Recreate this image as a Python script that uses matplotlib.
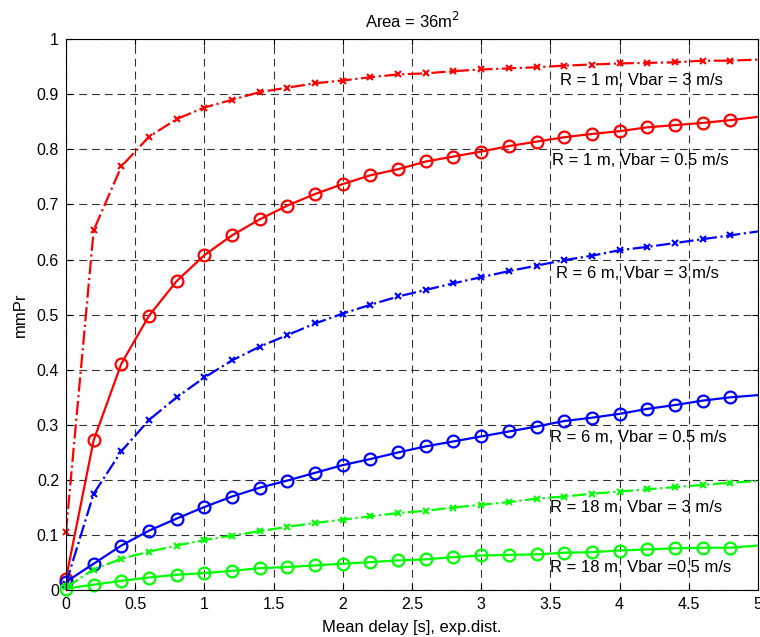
import numpy as np
import matplotlib
matplotlib.use("Agg")
import matplotlib.pyplot as plt

plt.rcParams['font.family'] = ['Liberation Sans', 'DejaVu Sans']

x = [0, 0.2, 0.4, 0.6, 0.8, 1.0, 1.2, 1.4, 1.6, 1.8, 2.0, 2.2, 2.4, 2.6, 2.8,
     3.0, 3.2, 3.4, 3.6, 3.8, 4.0, 4.2, 4.4, 4.6, 4.8, 5.0]

r1_v3 = [0.105, 0.653, 0.769, 0.823, 0.855, 0.876, 0.890, 0.904, 0.912, 0.920,
         0.925, 0.931, 0.936, 0.938, 0.942, 0.945, 0.947, 0.949, 0.952, 0.954,
         0.956, 0.957, 0.958, 0.961, 0.961, 0.963]
r1_v05 = [0.021, 0.272, 0.411, 0.498, 0.561, 0.608, 0.644, 0.673, 0.698, 0.719,
          0.737, 0.753, 0.764, 0.778, 0.787, 0.796, 0.806, 0.814, 0.822, 0.828,
          0.833, 0.840, 0.844, 0.848, 0.853, 0.859]
r6_v3 = [0.012, 0.175, 0.252, 0.309, 0.350, 0.386, 0.417, 0.442, 0.463, 0.484,
         0.502, 0.518, 0.533, 0.545, 0.557, 0.568, 0.579, 0.589, 0.599, 0.607,
         0.617, 0.623, 0.630, 0.637, 0.644, 0.651]
r6_v05 = [0.015, 0.048, 0.081, 0.108, 0.130, 0.151, 0.170, 0.186, 0.199, 0.213,
          0.227, 0.238, 0.250, 0.261, 0.270, 0.279, 0.288, 0.297, 0.307, 0.313,
          0.320, 0.329, 0.336, 0.344, 0.350, 0.354]
r18_v3 = [0.005, 0.0375, 0.057, 0.070, 0.081, 0.091, 0.099, 0.107, 0.115, 0.122,
          0.128, 0.134, 0.140, 0.144, 0.150, 0.155, 0.160, 0.166, 0.170, 0.175,
          0.179, 0.183, 0.187, 0.191, 0.195, 0.198]
r18_v05 = [0.003, 0.010, 0.017, 0.023, 0.028, 0.031, 0.035, 0.040, 0.042, 0.045,
           0.048, 0.051, 0.054, 0.056, 0.060, 0.063, 0.064, 0.065, 0.068, 0.069,
           0.072, 0.074, 0.076, 0.077, 0.077, 0.081]

labels = ["R = 1 m, Vbar = 3 m/s", "R = 1 m, Vbar = 0.5 m/s",
          "R = 6 m, Vbar = 3 m/s", "R = 6 m, Vbar = 0.5 m/s",
          "R = 18 m, Vbar = 3 m/s", "R = 18 m, Vbar =0.5 m/s"]
label_x = [3.57, 3.51, 3.54, 3.5, 3.5, 3.5]
label_y = [0.925, 0.780, 0.574, 0.277, 0.150, 0.042]

fig = plt.figure(figsize=(7.6, 6.37), dpi=100)
ax = fig.add_axes([0.0868, 0.0735, 0.9105, 0.865])

red, blue, green = '#ff0000', '#0000ff', '#00ff00'
lw = 1.6
n = len(x)
mk = slice(0, n - 1)
series = [(r1_v3, '-.', red, 'x'), (r1_v05, '-', red, 'o'),
          (r6_v3, '-.', blue, 'x'), (r6_v05, '-', blue, 'o'),
          (r18_v3, '-.', green, 'x'), (r18_v05, '-', green, 'o')]
for y, ls, c, m in series:
    ax.plot(x, y, ls, color=c, lw=lw, clip_on=True)
    if m == 'x':
        ax.plot(x[:n - 1], y[:n - 1], 'none', color=c, marker='x', ms=4.5, mew=1.5,
                linestyle='none', clip_on=False)
    else:
        ax.plot(x[:n - 1], y[:n - 1], color=c, marker='o', ms=8.5, mfc='none', mew=1.6,
                linestyle='none', clip_on=False)

for t, tx, ty in zip(labels, label_x, label_y):
    ax.text(tx, ty, t, fontsize=12, va='center', ha='left')

ax.set_xlim(0, 5)
ax.set_ylim(0, 1)
ax.set_xticks(np.arange(0, 5.01, 0.5))
ax.set_xticklabels(['0', '0.5', '1', '1.5', '2', '2.5', '3', '3.5', '4', '4.5', '5'])
ax.set_yticks(np.arange(0, 1.01, 0.1))
ax.set_yticklabels(['0', '0.1', '0.2', '0.3', '0.4', '0.5', '0.6', '0.7', '0.8', '0.9', '1'])
ax.tick_params(direction='in', top=True, right=True, labelsize=11.5, length=4, width=0.8, pad=5)
ax.grid(True, color='black', linestyle=(0, (7, 4.5)), linewidth=0.8, alpha=0.8)
for s in ax.spines.values():
    s.set_linewidth(0.8)
ax.set_xlabel('Mean delay [s], exp.dist.', fontsize=12, labelpad=6)
ax.set_ylabel('mmPr', fontsize=12, labelpad=6)
ax.set_title('Area = 36m$^2$', fontsize=12, pad=8)

fig.savefig('out.png', dpi=100)
